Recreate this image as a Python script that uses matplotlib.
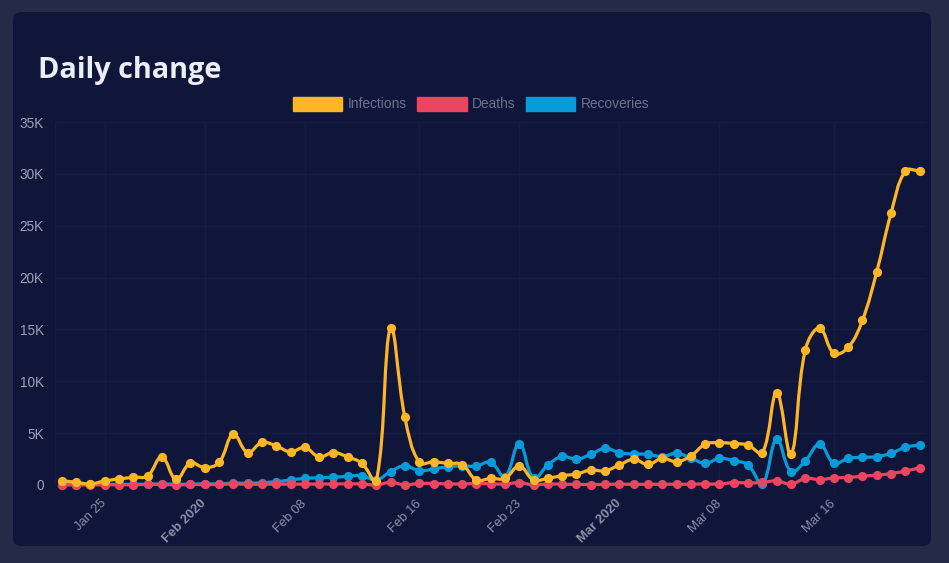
import numpy as np
import pandas as pd
import matplotlib
matplotlib.use("Agg")
import matplotlib.pyplot as plt
import matplotlib.dates as mdates
import matplotlib.transforms as mtransforms
from matplotlib.patches import FancyBboxPatch, Patch
from matplotlib.path import Path
from matplotlib.patches import PathPatch
from matplotlib.ticker import FixedLocator

# ---------------- data ----------------
start_date = "2020-01-22"
n_days = 61
dates = pd.date_range(start_date, periods=n_days, freq="D")

infections = [420, 260, 100, 390, 580, 740, 870, 2700, 550, 2120,
              1680, 2170, 4900, 3130, 4100, 3770, 3190, 3620, 2710, 3130,
              2700, 2080, 380, 15170, 6530, 2180, 2230, 2080, 1970, 480,
              640, 640, 1840, 480, 640, 900, 1060, 1440, 1370, 1930,
              2480, 1980, 2570, 2250, 2800, 3940, 4080, 4000, 3840, 3100,
              8900, 2950, 13030, 15130, 12700, 13260, 15900, 20580, 26220, 30280,
              30280]
deaths = [20, 10, 10, 20, 20, 30, 50, 60, 10, 50,
          50, 50, 100, 70, 70, 80, 80, 90, 90, 100,
          110, 100, 5, 250, 15, 145, 140, 105, 100, 140,
          115, 100, 220, 10, 100, 70, 60, 40, 60, 70,
          70, 60, 80, 70, 80, 100, 100, 230, 200, 250,
          400, 80, 640, 520, 680, 720, 850, 950, 1100, 1350,
          1650]
recoveries = [30, 40, 50, 50, 60, 60, 80, 100, 70, 80,
              120, 100, 190, 160, 230, 320, 480, 640, 700, 740,
              840, 900, 480, 1300, 1860, 1380, 1540, 1770, 1830, 1830,
              2190, 800, 4000, 640, 1930, 2750, 2480, 2960, 3540, 3110,
              2990, 2960, 2730, 3060, 2600, 2090, 2570, 2340, 1930, 100,
              4420, 1290, 2310, 3950, 2090, 2570, 2670, 2730, 3060, 3640,
              3860]

series_names = ["Infections", "Deaths", "Recoveries"]
series_values = [infections, deaths, recoveries]
series_colors = ["#FDB626", "#EC4560", "#079BD9"]

tick_dates = ["2020-01-25", "2020-02-01", "2020-02-08", "2020-02-16",
              "2020-02-23", "2020-03-01", "2020-03-08", "2020-03-16"]
tick_labels = ["Jan 25", "Feb 2020", "Feb 08", "Feb 16",
               "Feb 23", "Mar 2020", "Mar 08", "Mar 16"]
bold_ticks = ["Feb 2020", "Mar 2020"]

y_ticks = [0, 5000, 10000, 15000, 20000, 25000, 30000, 35000]
y_tick_labels = ["0", "5K", "10K", "15K", "20K", "25K", "30K", "35K"]

# ---------------- style ----------------
W, H, DPI = 949, 563, 100
outer_bg = "#262A49"
card_bg = "#10163A"
grid_c = "#161C41"
label_c = "#8D90A8"
font = ["Liberation Sans", "DejaVu Sans"]

fig = plt.figure(figsize=(W / DPI, H / DPI), dpi=DPI, facecolor=outer_bg)

card = FancyBboxPatch((13, H - 546), 918, 534,
                      boxstyle="round,pad=0,rounding_size=8",
                      transform=mtransforms.IdentityTransform(),
                      facecolor=card_bg, edgecolor="none", zorder=-10)
fig.patches.append(card)

left_px, right_px, top_px, bot_px = 55, 926, 122, 485
ax = fig.add_axes([left_px / W, (H - bot_px) / H,
                   (right_px - left_px) / W, (bot_px - top_px) / H])
ax.set_zorder(2)
ax.set_facecolor("none")
for s in ax.spines.values():
    s.set_visible(False)

xnum = mdates.date2num(dates.to_pydatetime())
day_px = 14.3
x0 = xnum[0] - 6.7 / day_px
x1 = x0 + (right_px - left_px) / day_px
ax.set_xlim(x0, x1)
ax.set_ylim(0, 35000)

# grid
tick_nums = mdates.date2num(pd.to_datetime(tick_dates).to_pydatetime())
ax.xaxis.set_major_locator(FixedLocator(tick_nums))
ax.set_xticklabels(tick_labels)
ax.yaxis.set_major_locator(FixedLocator(y_ticks))
ax.set_yticklabels(y_tick_labels)
ax.grid(True, color=grid_c, linewidth=1.0)
ax.set_axisbelow(True)
ax.axvline(x0, color=grid_c, linewidth=1.0)
ax.tick_params(axis="x", length=6, color=grid_c, pad=6, labelcolor=label_c)
ax.tick_params(axis="y", length=0, pad=8, labelcolor="#9EA1B6")
for lab in ax.get_xticklabels():
    lab.set_rotation(45)
    lab.set_ha("right")
    lab.set_va("center")
    lab.set_rotation_mode("anchor")
    lab.set_fontsize(9.4)
    lab.set_family(font)
    if lab.get_text() in bold_ticks:
        lab.set_fontweight("bold")
for lab in ax.get_yticklabels():
    lab.set_fontsize(9.8)
    lab.set_family(font)


def spline_path(xs, ys, tension=0.4):
    pts = ax.transData.transform(np.column_stack([xs, ys]))
    n = len(pts)
    cp_prev = np.zeros_like(pts)
    cp_next = np.zeros_like(pts)
    for i in range(n):
        cur = pts[i]
        prev = pts[i - 1] if i > 0 else cur
        nxt = pts[i + 1] if i < n - 1 else cur
        d01 = np.hypot(*(cur - prev))
        d12 = np.hypot(*(nxt - cur))
        tot = d01 + d12
        s01 = d01 / tot if tot > 0 else 0.0
        s12 = d12 / tot if tot > 0 else 0.0
        cp_prev[i] = cur - tension * s01 * (nxt - prev)
        cp_next[i] = cur + tension * s12 * (nxt - prev)
    verts = [pts[0]]
    codes = [Path.MOVETO]
    for i in range(n - 1):
        verts += [cp_next[i], cp_prev[i + 1], pts[i + 1]]
        codes += [Path.CURVE4] * 3
    verts = ax.transData.inverted().transform(np.array(verts))
    return Path(verts, codes)


zorders = [6, 5, 4]
for name, vals, col, z in zip(series_names, series_values, series_colors, zorders):
    path = spline_path(xnum, vals)
    ax.add_patch(PathPatch(path, facecolor="none", edgecolor=col,
                           linewidth=2.3, zorder=z, clip_on=False,
                           capstyle="round", joinstyle="round"))
    ax.plot(xnum, vals, linestyle="none", marker="o", markersize=5.6,
            color=col, zorder=z + 0.5, clip_on=False)

# title
fig.text(38 / W, (H - 78) / H, "Daily change", fontsize=20.8, fontweight="bold",
         color="#ECEEF5", family=["Open Sans", "DejaVu Sans"], ha="left",
         va="baseline")

# legend
handles = [Patch(facecolor=c, edgecolor=c, linewidth=1.0, label=nm)
           for nm, c in zip(series_names, series_colors)]
leg = fig.legend(handles=handles, loc="center",
                 bbox_to_anchor=(471 / W, (H - 104) / H), ncol=3,
                 frameon=False, handlelength=3.6,
                 handleheight=1.2, handletextpad=0.38, columnspacing=0.75,
                 prop={"family": font, "size": 9.9}, labelcolor="#6E7290")

fig.savefig("out.png", dpi=DPI, facecolor=outer_bg)
